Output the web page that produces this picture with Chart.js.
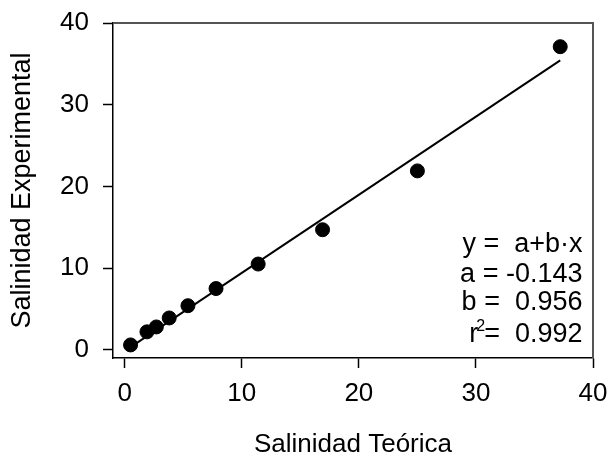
<!DOCTYPE html>
<html>
<head>
<meta charset="utf-8">
<script src="https://cdn.jsdelivr.net/npm/chart.js@4.4.1/dist/chart.umd.min.js"></script>
<style>
  html, body { margin: 0; padding: 0; background: #fff; }
  #wrap { width: 608px; height: 461px; }
</style>
</head>
<body>
<div id="wrap"><canvas id="salChart"></canvas></div>
<script>
// measured salinity vs. theoretical salinity
var salTeorica = [0.5, 1.9, 2.7, 3.8, 5.4, 7.8, 11.4, 16.9, 25.0, 37.2];
var salExperimental = [0.6, 2.2, 2.8, 3.9, 5.4, 7.5, 10.5, 14.7, 21.9, 37.1];
var tickValues = [0, 10, 20, 30, 40];

// fitted line y = a + b*x
var coefA = -0.143;
var coefB = 0.956;
var coefR2 = 0.992;

var fontFamily = '"Liberation Sans", Arial, Helvetica, sans-serif';

var xMin = Math.min.apply(null, salTeorica);
var xMax = Math.max.apply(null, salTeorica);
var fitLine = [xMin, xMax].map(function(x) { return { x: x, y: coefA + coefB * x }; });
var points = salTeorica.map(function(x, i) { return { x: x, y: salExperimental[i] }; });

// top/right frame lines and the regression text box
var framePlugin = {
    id: 'frame',
    beforeDatasetsDraw: function(chart) {
        var c = chart.ctx, a = chart.chartArea;
        c.save();
        c.strokeStyle = '#555';
        c.lineWidth = 2;
        c.beginPath();
        c.moveTo(a.left, a.top);
        c.lineTo(a.right, a.top);
        c.lineTo(a.right, a.bottom);
        c.stroke();
        c.restore();
    },
    afterDatasetsDraw: function(chart) {
        var c = chart.ctx;
        var xs = chart.scales.x, ys = chart.scales.y;
        var right = xs.getPixelForValue(39.1);
        var base = [12.0, 8.35, 4.9, 0.9].map(function(v) { return ys.getPixelForValue(v); });
        c.save();
        c.fillStyle = '#000';
        c.font = '27px ' + fontFamily;
        c.textAlign = 'right';
        c.textBaseline = 'alphabetic';
        c.fillText('y =  a+b\u00b7x', right, base[0]);
        c.fillText('a = ' + coefA.toFixed(3), right, base[1]);
        c.fillText('b =  ' + coefB.toFixed(3), right, base[2]);
        var tail = '=  ' + coefR2.toFixed(3);
        c.fillText(tail, right, base[3]);
        var tailW = c.measureText(tail).width;
        c.font = '16px ' + fontFamily;
        var supW = c.measureText('2').width;
        c.fillText('2', right - tailW + 1, base[3] - 11);
        c.font = '27px ' + fontFamily;
        c.fillText('r', right - tailW - supW + 3, base[3]);
        c.restore();
    }
};

function noPad(scale) {
    scale.paddingTop = 0;
    scale.paddingBottom = 0;
    scale.paddingLeft = 0;
    scale.paddingRight = 0;
}

var axisBase = {
    type: 'linear',
    min: -1,
    max: 40,
    afterBuildTicks: function(scale) {
        scale.ticks = tickValues.map(function(v) { return { value: v }; });
    },
    grid: {
        drawOnChartArea: false,
        drawTicks: true,
        tickLength: 10,
        tickWidth: 1.5,
        tickColor: '#000'
    },
    border: { display: true, color: '#000', width: 1.5 },
    ticks: {
        color: '#000',
        font: { family: fontFamily, size: 26 }
    },
    title: {
        display: true,
        color: '#000'
    }
};

new Chart(document.getElementById('salChart'), {
    type: 'scatter',
    data: {
        datasets: [{
            type: 'line',
            data: fitLine,
            borderColor: '#000',
            borderWidth: 2,
            pointRadius: 0,
            fill: false
        }, {
            data: points,
            backgroundColor: '#000',
            borderColor: '#000',
            pointRadius: 7,
            pointHoverRadius: 7
        }]
    },
    options: {
        responsive: true,
        maintainAspectRatio: false,
        animation: false,
        events: [],
        layout: { padding: { top: 23, right: 15, left: 0, bottom: 0 } },
        plugins: {
            legend: { display: false },
            tooltip: { enabled: false }
        },
        scales: {
            x: Object.assign({}, axisBase, {
                position: 'bottom',
                ticks: Object.assign({}, axisBase.ticks, { padding: 10, maxRotation: 0 }),
                title: Object.assign({}, axisBase.title, {
                    text: 'Salinidad Te\u00f3rica',
                    font: { family: fontFamily, size: 26 },
                    padding: { top: 0, bottom: 1 }
                }),
                afterFit: function(scale) { scale.height = 103; noPad(scale); }
            }),
            y: Object.assign({}, axisBase, {
                position: 'left',
                ticks: Object.assign({}, axisBase.ticks, { padding: 14 }),
                title: Object.assign({}, axisBase.title, {
                    text: 'Salinidad Experimental',
                    font: { family: fontFamily, size: 27 },
                    padding: { top: 6, bottom: 0 }
                }),
                afterFit: function(scale) { scale.width = 113; noPad(scale); }
            })
        }
    },
    plugins: [framePlugin]
});
</script>
</body>
</html>
